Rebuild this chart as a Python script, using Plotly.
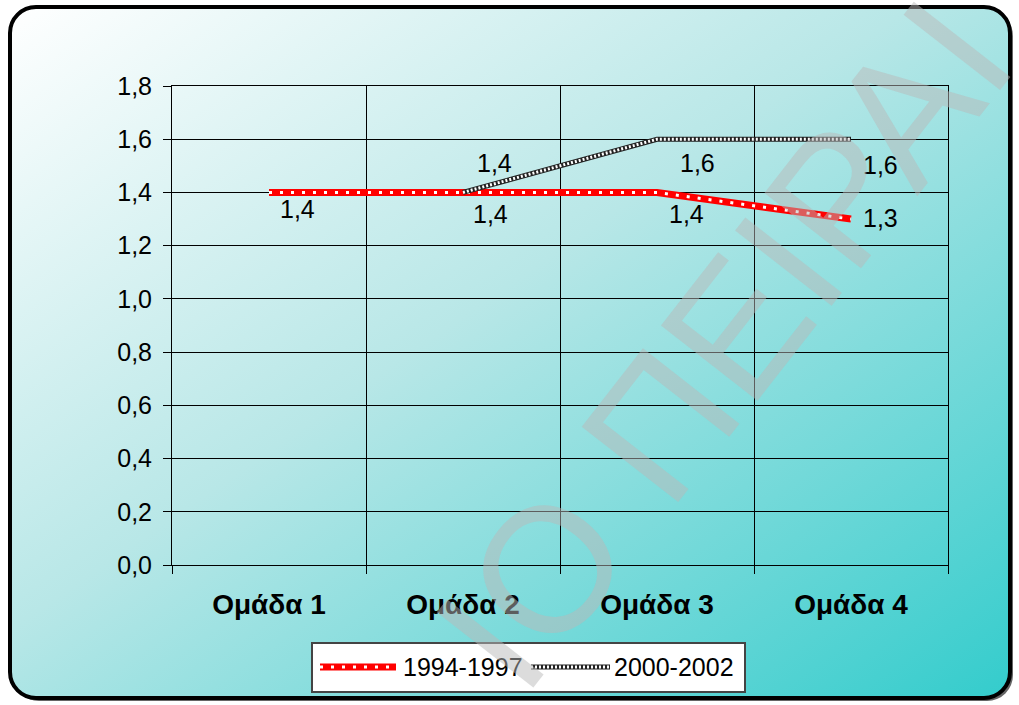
import base64
import plotly.graph_objects as go

categories = ["Ομάδα 1", "Ομάδα 2", "Ομάδα 3", "Ομάδα 4"]
series_names = ["1994-1997", "2000-2002"]
values_1994 = [1.4, 1.4, 1.4, 1.3]
values_2000 = [None, 1.4, 1.6, 1.6]
y_ticks = [0.0, 0.2, 0.4, 0.6, 0.8, 1.0, 1.2, 1.4, 1.6, 1.8]

W, H = 1019, 705
L, R, T, B = 172, 71, 86, 140
PW, PH = W - L - R, H - T - B

def px_x(p):
    return (p - L) / PW

def px_y(p):
    return (H - B - p) / PH

FONT = "Arial, Liberation Sans, sans-serif"

# background: rounded frame with diagonal gradient
svg = (
    f'<svg xmlns="http://www.w3.org/2000/svg" width="{W}" height="{H}" viewBox="0 0 {W} {H}">'
    '<defs><linearGradient id="g" x1="0" y1="0" x2="1" y2="1">'
    '<stop offset="0" stop-color="#ffffff"/><stop offset="0.45" stop-color="#b8e7e7"/>'
    '<stop offset="1" stop-color="#33cccc"/></linearGradient></defs>'
    '<rect x="13" y="10" width="1000" height="691" rx="26" fill="#666"/>'
    '<rect x="10" y="7" width="1000" height="691" rx="26" fill="url(#g)" stroke="#000" stroke-width="4"/>'
    '</svg>'
)
src = "data:image/svg+xml;base64," + base64.b64encode(svg.encode()).decode()

fig = go.Figure()

# series 1: red with white squares
fig.add_trace(go.Scatter(x=categories, y=values_1994, mode="lines", name=series_names[0],
                         line=dict(color="#ff0000", width=7), showlegend=False, hoverinfo="skip"))
fig.add_trace(go.Scatter(x=categories, y=values_1994, mode="lines", name=series_names[0],
                         line=dict(color="#ffffff", width=3, dash="3px,8px"), showlegend=False, hoverinfo="skip"))
# series 2: checkered
fig.add_trace(go.Scatter(x=categories, y=values_2000, mode="lines", name=series_names[1],
                         line=dict(color="#222222", width=5), showlegend=False, hoverinfo="skip"))
fig.add_trace(go.Scatter(x=categories, y=values_2000, mode="lines", name=series_names[1],
                         line=dict(color="#ffffff", width=3, dash="2px,2px"), showlegend=False, hoverinfo="skip"))

annotations = []
# data labels
s1_shift = [(28, -17), (27, -22), (29, -22), (29, 1)]
s2_shift = [(0, 0), (31, 29), (40, -24), (29, -26)]
for i, v in enumerate(values_1994):
    if v is None:
        continue
    annotations.append(dict(x=categories[i], y=v, xref="x", yref="y", text=f"{v:.1f}".replace(".", ","),
                            showarrow=False, xshift=s1_shift[i][0], yshift=s1_shift[i][1],
                            font=dict(family=FONT, size=25, color="#000")))
for i, v in enumerate(values_2000):
    if v is None:
        continue
    annotations.append(dict(x=categories[i], y=v, xref="x", yref="y", text=f"{v:.1f}".replace(".", ","),
                            showarrow=False, xshift=s2_shift[i][0], yshift=s2_shift[i][1],
                            font=dict(family=FONT, size=25, color="#000")))

# legend (manual)
shapes = [
    dict(type="rect", xref="paper", yref="paper", x0=px_x(312), x1=px_x(745), y0=px_y(692), y1=px_y(643),
         fillcolor="#ffffff", line=dict(color="#444", width=2), layer="above"),
    dict(type="line", xref="paper", yref="paper", x0=px_x(320), x1=px_x(396), y0=px_y(667), y1=px_y(667),
         line=dict(color="#ff0000", width=7), layer="above"),
    dict(type="line", xref="paper", yref="paper", x0=px_x(320), x1=px_x(396), y0=px_y(667), y1=px_y(667),
         line=dict(color="#ffffff", width=3, dash="3px,8px"), layer="above"),
    dict(type="line", xref="paper", yref="paper", x0=px_x(531), x1=px_x(610), y0=px_y(667), y1=px_y(667),
         line=dict(color="#222222", width=5), layer="above"),
    dict(type="line", xref="paper", yref="paper", x0=px_x(531), x1=px_x(610), y0=px_y(667), y1=px_y(667),
         line=dict(color="#ffffff", width=3, dash="2px,2px"), layer="above"),
]
annotations.append(dict(x=px_x(401), y=px_y(667), xref="paper", yref="paper", text=series_names[0],
                        showarrow=False, xanchor="left", yanchor="middle",
                        font=dict(family=FONT, size=25, color="#000")))
annotations.append(dict(x=px_x(612), y=px_y(667), xref="paper", yref="paper", text=series_names[1],
                        showarrow=False, xanchor="left", yanchor="middle",
                        font=dict(family=FONT, size=25, color="#000")))

# watermark
annotations.append(dict(x=px_x(1053), y=px_y(344), xref="paper", yref="paper", text="ΙΟ ΠΕΙΡΑΙ",
                        showarrow=False, textangle=-52,
                        font=dict(family=FONT, size=178, color="rgba(185,185,185,0.5)")))

fig.update_layout(
    width=W, height=H,
    margin=dict(l=L, r=R, t=T, b=B),
    paper_bgcolor="#ffffff", plot_bgcolor="rgba(0,0,0,0)",
    separators=",.",
    showlegend=False,
    images=[dict(source=src, xref="paper", yref="paper", x=-L / PW, y=1 + T / PH,
                 sizex=W / PW, sizey=H / PH, sizing="stretch", xanchor="left", yanchor="top",
                 layer="below")],
    shapes=shapes,
    annotations=annotations,
    xaxis=dict(type="category", categoryarray=categories, range=[-0.5, 3.5],
               tickson="boundaries", showgrid=True, gridcolor="#000", gridwidth=1,
               ticks="outside", ticklen=8, tickcolor="#000", ticklabelstandoff=14,
               showline=True, linecolor="#000", linewidth=1, mirror=True,
               tickfont=dict(family=FONT, size=28, color="#000"), zeroline=False),
    yaxis=dict(range=[0, 1.8], tickvals=y_ticks, tickformat=".1f",
               showgrid=True, gridcolor="#000", gridwidth=1,
               ticks="outside", ticklen=8, tickcolor="#000", ticklabelstandoff=6,
               showline=True, linecolor="#000", linewidth=1, mirror=True,
               tickfont=dict(family=FONT, size=25, color="#000"), zeroline=False),
)
fig.for_each_xaxis(lambda a: a.update(ticktext=[f"<b>{c}</b>" for c in categories], tickvals=categories))

fig.write_html("out.html", config={"displayModeBar": False, "staticPlot": True},
               post_script="document.body.style.margin='0';document.body.style.overflow='hidden';")
